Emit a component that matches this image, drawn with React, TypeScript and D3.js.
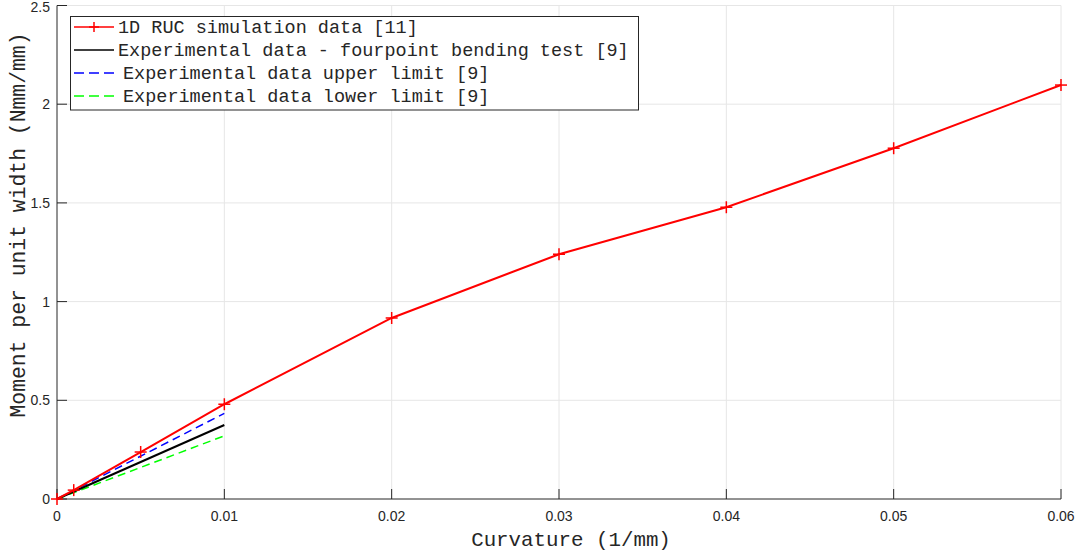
import React from "react";
import * as d3 from "d3";

const simX = [0, 0.001, 0.005, 0.01, 0.02, 0.03, 0.04, 0.05, 0.06];
const simY = [0, 0.045, 0.238, 0.48, 0.917, 1.24, 1.478, 1.777, 2.097];
const expX = [0, 0.01];
const expY = [0, 0.375];
const upperX = [0, 0.01];
const upperY = [0, 0.434];
const lowerX = [0, 0.01];
const lowerY = [0, 0.32];
const xTicks = [0, 0.01, 0.02, 0.03, 0.04, 0.05, 0.06];
const yTicks = [0, 0.5, 1, 1.5, 2, 2.5];
const legendLabels = [
  "1D RUC simulation data [11]",
  "Experimental data - fourpoint bending test [9]",
  "Experimental data upper limit [9]",
  "Experimental data lower limit [9]",
];

const W = 1087;
const H = 556;
const L = 57, R = 1061, T = 5.5, B = 499;
const axisColor = "#262626";
const gridColor = "#e6e6e6";
const mono = "'Liberation Mono', 'Courier New', monospace";
const sans = "'Liberation Sans', Arial, Helvetica, sans-serif";

export default function App() {
  const x = d3.scaleLinear().domain([0, 0.06]).range([L, R]);
  const y = d3.scaleLinear().domain([0, 2.5]).range([B, T]);
  const line = (xs: number[], ys: number[]) =>
    d3.line<number>().x((_, i) => x(xs[i])).y((d) => y(d))(ys) || "";

  const plus = (cx: number, cy: number, key: string, s = 6) => (
    <g key={key} stroke="#ff0000" strokeWidth={1.5}>
      <line x1={cx - s} x2={cx + s} y1={cy} y2={cy} />
      <line x1={cx} x2={cx} y1={cy - s} y2={cy + s} />
    </g>
  );

  const rows = [27, 50, 73, 96];

  return (
    <svg width={W} height={H} style={{ position: "absolute", left: 0, top: 0, background: "#fff" }}>
      <rect x={0} y={0} width={W} height={H} fill="#fff" />
      {/* grid */}
      {xTicks.slice(1).map((t) => (
        <line key={"gx" + t} x1={x(t)} x2={x(t)} y1={T} y2={B} stroke={gridColor} strokeWidth={1} />
      ))}
      {yTicks.slice(1).map((t) => (
        <line key={"gy" + t} x1={L} x2={R} y1={y(t)} y2={y(t)} stroke={gridColor} strokeWidth={1} />
      ))}
      {/* axes */}
      <line x1={L} x2={R} y1={B} y2={B} stroke={axisColor} strokeWidth={1} />
      <line x1={L} x2={L} y1={T} y2={B} stroke={axisColor} strokeWidth={1} />
      {xTicks.map((t) => (
        <g key={"xt" + t}>
          <line x1={x(t)} x2={x(t)} y1={B} y2={B - 10} stroke={axisColor} strokeWidth={1} />
          <text x={x(t)} y={521} textAnchor="middle" fontFamily={sans} fontSize={14} fill={axisColor}>
            {String(t)}
          </text>
        </g>
      ))}
      {yTicks.map((t) => (
        <g key={"yt" + t}>
          <line x1={L} x2={L + 10} y1={y(t)} y2={y(t)} stroke={axisColor} strokeWidth={1} />
          <text x={50} y={Math.max(y(t) + 5, 12)} textAnchor="end" fontFamily={sans} fontSize={14} fill={axisColor}>
            {String(t)}
          </text>
        </g>
      ))}
      {/* labels */}
      <text x={571} y={546} textAnchor="middle" fontFamily={mono} fontSize={20.8} fill={axisColor}>
        Curvature (1/mm)
      </text>
      <text
        transform="translate(25,225) rotate(-90)"
        textAnchor="middle"
        fontFamily={mono}
        fontSize={21.4}
        fill={axisColor}
      >
        Moment per unit width (Nmm/mm)
      </text>
      {/* data */}
      <path d={line(lowerX, lowerY)} fill="none" stroke="#00ff00" strokeWidth={1.5} strokeDasharray="8,5" />
      <path d={line(upperX, upperY)} fill="none" stroke="#0000ff" strokeWidth={1.5} strokeDasharray="8,5" />
      <path d={line(expX, expY)} fill="none" stroke="#000000" strokeWidth={2} />
      <path d={line(simX, simY)} fill="none" stroke="#ff0000" strokeWidth={2} />
      {simX.map((v, i) => plus(x(v), y(simY[i]), "m" + i))}
      {/* legend */}
      <rect x={70.5} y={16.5} width={568} height={93.5} fill="#fff" stroke={axisColor} strokeWidth={1} />
      <line x1={74} x2={114} y1={rows[0]} y2={rows[0]} stroke="#ff0000" strokeWidth={1.5} />
      {plus(94, rows[0], "lm", 5)}
      <line x1={74} x2={114} y1={rows[1]} y2={rows[1]} stroke="#000" strokeWidth={1.5} />
      <line x1={74} x2={118} y1={rows[2]} y2={rows[2]} stroke="#0000ff" strokeWidth={1.5} strokeDasharray="10,5" />
      <line x1={74} x2={118} y1={rows[3]} y2={rows[3]} stroke="#00ff00" strokeWidth={1.5} strokeDasharray="10,5" />
      {legendLabels.map((s, i) => (
        <text
          key={"lg" + i}
          x={i < 2 ? 118 : 123}
          y={rows[i] + 6}
          fontFamily={mono}
          fontSize={18.5}
          fill={axisColor}
          style={{ whiteSpace: "pre" }}
        >
          {s}
        </text>
      ))}
    </svg>
  );
}
